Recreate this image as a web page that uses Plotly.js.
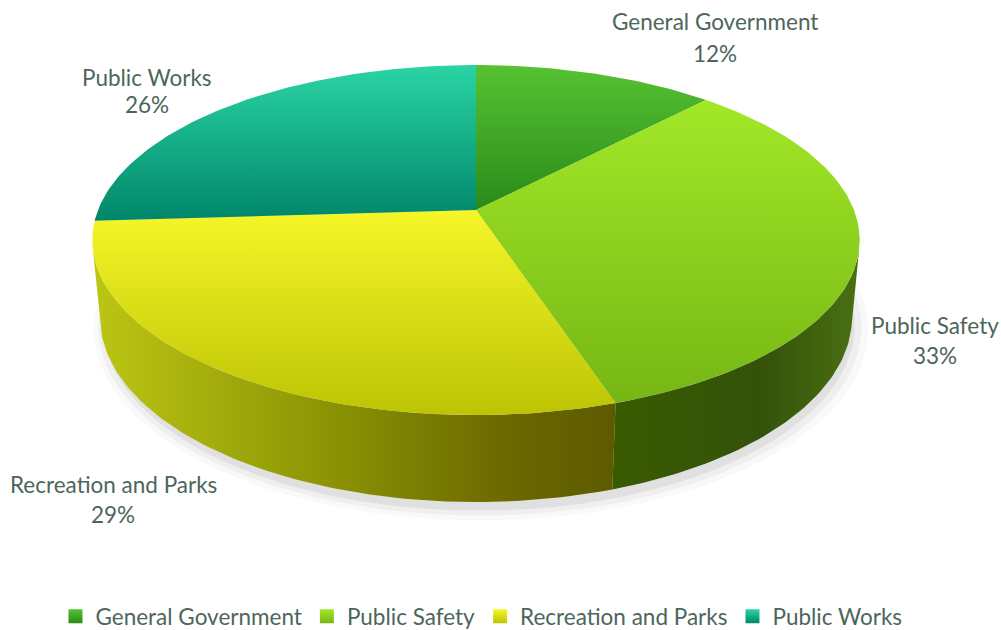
<!DOCTYPE html>
<html>
<head>
<meta charset="utf-8">
<script src="https://cdn.plot.ly/plotly-3.0.1.min.js"></script>
<style>html,body{margin:0;padding:0;background:#fff;}#chart{width:1001px;height:630px;}</style>
</head>
<body>
<div id="chart"></div>
<script>
// ---- data ----
const categories = ['General Government', 'Public Safety', 'Recreation and Parks', 'Public Works'];
const shares = [12, 33, 29, 26];
const topLight = ['#56c232', '#a2e828', '#f6f628', '#2ad4a4'];
const topDark  = ['#2a8a1a', '#76b614', '#bcc404', '#00866a'];
const sideScales = [
  [[0, '#2f7a14'], [1, '#1f5a0c']],
  [[0, '#3a5a00'], [0.6, '#34520a'], [1, '#4a7012']],
  [[0, '#bcc614'], [0.45, '#8c9404'], [0.8, '#6a6800'], [1, '#5e5a00']],
  [[0, '#00806a'], [1, '#005e4c']]
];

// ---- 3D projection of a disc (perspective) ----
const ELEV = 26.7 * Math.PI / 180, DIST = 5.204, FOCAL = 1967, THICK = 0.2305;
const sE = Math.sin(ELEV), cE = Math.cos(ELEV);
function project(X, Y, Z) {
  const depth = -Y * sE + Z * cE + DIST;
  const up = Y * cE + Z * sE;
  return [FOCAL * X / depth, FOCAL * up / depth];
}
function rim(phiDeg, Y, r) {
  const p = phiDeg * Math.PI / 180;
  return project((r || 1) * Math.sin(p), Y, (r || 1) * Math.cos(p));
}
function arc(a1, a2, Y, r) {
  const pts = [];
  const n = Math.max(2, Math.ceil(Math.abs(a2 - a1)));
  for (let i = 0; i <= n; i++) pts.push(rim(a1 + (a2 - a1) * i / n, Y, r));
  return pts;
}

const total = shares.reduce((a, b) => a + b, 0);
const starts = [], ends = [];
let acc = 0;
shares.forEach(v => { starts.push(acc / total * 360); acc += v; ends.push(acc / total * 360); });

const visLo = Math.acos(-1 / (DIST * cE)) * 180 / Math.PI;
const visHi = 360 - visLo;

const traces = [];

// soft shadow (lower-right)
[[1.03, 'rgba(0,0,0,0.025)', 5], [1.015, 'rgba(0,0,0,0.04)', 4], [1.0, 'rgba(0,0,0,0.06)', 3]].forEach(([r, col, off]) => {
  const pts = arc(0, 360, -THICK - 0.01, r).map(p => [p[0] + off, p[1] - off - 2]);
  traces.push({type: 'scatter', mode: 'lines', x: pts.map(p => p[0]), y: pts.map(p => p[1]),
    fill: 'toself', fillcolor: col, line: {width: 0}, hoverinfo: 'skip', showlegend: false});
});

// side walls
categories.forEach((cat, i) => {
  const lo = Math.max(starts[i], visLo), hi = Math.min(ends[i], visHi);
  if (lo >= hi) return;
  const pts = arc(lo, hi, 0).concat(arc(hi, lo, -THICK));
  traces.push({type: 'scatter', mode: 'lines', x: pts.map(p => p[0]), y: pts.map(p => p[1]),
    fill: 'toself', line: {width: 0}, fillgradient: {type: 'horizontal', colorscale: sideScales[i]},
    hoverinfo: 'skip', showlegend: false});
});

// top faces
categories.forEach((cat, i) => {
  const pts = [project(0, 0, 0)].concat(arc(starts[i], ends[i], 0)).concat([project(0, 0, 0)]);
  traces.push({type: 'scatter', mode: 'lines', x: pts.map(p => p[0]), y: pts.map(p => p[1]),
    fill: 'toself', line: {width: 0},
    fillgradient: {type: 'vertical', colorscale: [[0, topDark[i]], [1, topLight[i]]]},
    hoverinfo: 'skip', showlegend: false, name: cat});
});

// legend entries
categories.forEach((cat, i) => {
  traces.push({type: 'scatter', mode: 'markers', x: [null], y: [null], name: cat,
    marker: {symbol: 'square', size: 14, color: topLight[i],
      gradient: {type: 'vertical', color: topDark[i]}},
    hoverinfo: 'skip', showlegend: true});
});

const labelFont = {family: 'Lato, "Open Sans", sans-serif', size: 22.5, color: '#4d665b'};
const labelPos = [[715, 22, 53], [935, 325, 355], [113, 484, 514], [147, 77, 105]];
const annotations = [];
categories.forEach((cat, i) => {
  const [x, y1, y2] = labelPos[i];
  annotations.push({xref: 'paper', yref: 'paper', x: x / 1001, y: 1 - y1 / 630, text: cat,
    showarrow: false, xanchor: 'center', yanchor: 'middle', font: labelFont});
  annotations.push({xref: 'paper', yref: 'paper', x: x / 1001, y: 1 - y2 / 630, text: shares[i] + '%',
    showarrow: false, xanchor: 'center', yanchor: 'middle', font: labelFont});
});

const layout = {
  width: 1001, height: 630,
  margin: {l: 0, r: 0, t: 0, b: 0, autoexpand: false},
  paper_bgcolor: '#ffffff', plot_bgcolor: '#ffffff',
  xaxis: {range: [-476, 525], visible: false, fixedrange: true},
  yaxis: {range: [-420, 210], visible: false, fixedrange: true},
  showlegend: true,
  legend: {orientation: 'h', x: 0.481, xanchor: 'center', y: -0.013, yanchor: 'bottom',
    font: {family: 'Lato, "Open Sans", sans-serif', size: 22.5, color: '#4d665b'},
    bgcolor: 'rgba(0,0,0,0)', itemclick: false, itemdoubleclick: false},
  annotations: annotations,
  hovermode: false
};

Plotly.newPlot('chart', traces, layout, {displayModeBar: false, staticPlot: true});
</script>
</body>
</html>
